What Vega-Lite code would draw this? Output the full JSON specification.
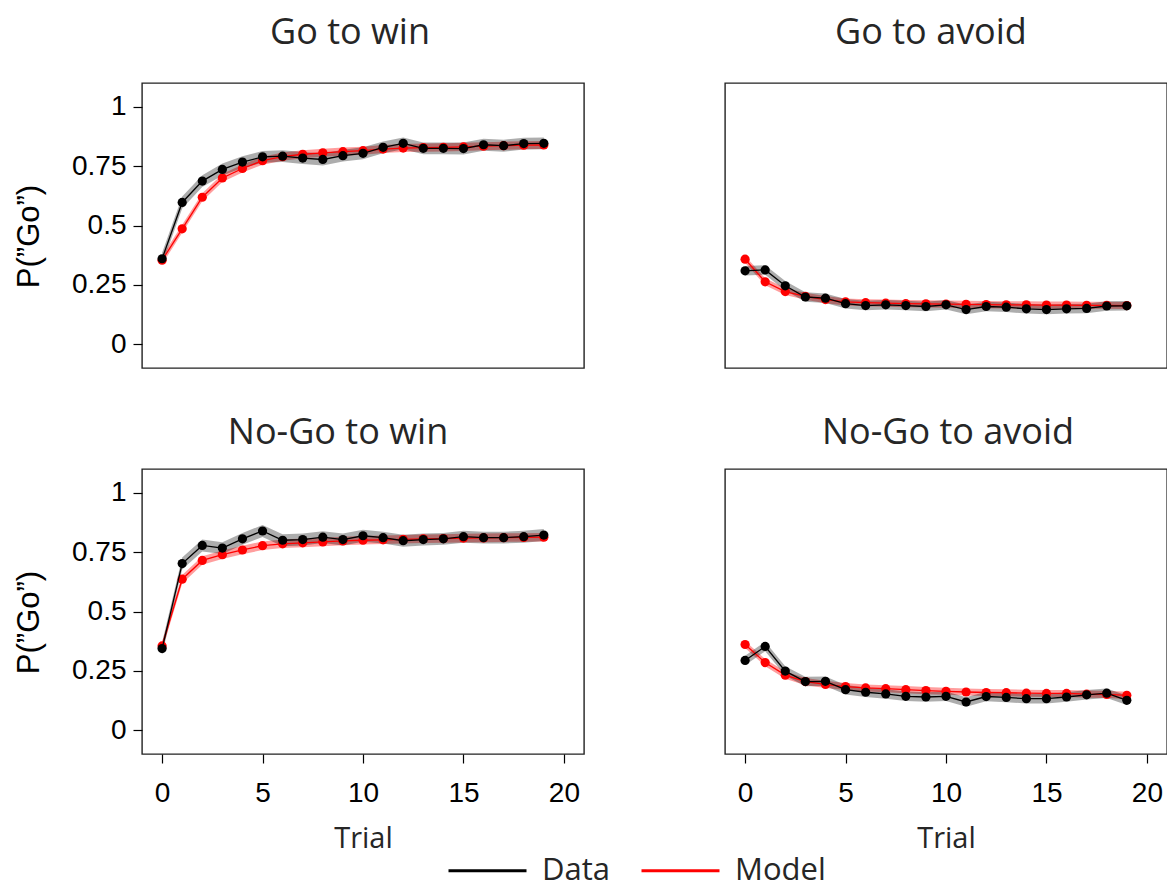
{
"$schema":"https://vega.github.io/schema/vega-lite/v6.json",
"padding":{"left":12,"top":14,"right":0,"bottom":0},
"data":{"values":[
{"c":"GW","s":"Data","t":0,"m":0.360,"lo":0.335,"hi":0.385},
{"c":"GW","s":"Data","t":1,"m":0.597,"lo":0.572,"hi":0.622},
{"c":"GW","s":"Data","t":2,"m":0.687,"lo":0.662,"hi":0.712},
{"c":"GW","s":"Data","t":3,"m":0.736,"lo":0.711,"hi":0.761},
{"c":"GW","s":"Data","t":4,"m":0.767,"lo":0.742,"hi":0.792},
{"c":"GW","s":"Data","t":5,"m":0.789,"lo":0.764,"hi":0.814},
{"c":"GW","s":"Data","t":6,"m":0.792,"lo":0.767,"hi":0.817},
{"c":"GW","s":"Data","t":7,"m":0.784,"lo":0.759,"hi":0.809},
{"c":"GW","s":"Data","t":8,"m":0.778,"lo":0.753,"hi":0.803},
{"c":"GW","s":"Data","t":9,"m":0.794,"lo":0.769,"hi":0.819},
{"c":"GW","s":"Data","t":10,"m":0.804,"lo":0.779,"hi":0.829},
{"c":"GW","s":"Data","t":11,"m":0.829,"lo":0.804,"hi":0.854},
{"c":"GW","s":"Data","t":12,"m":0.846,"lo":0.821,"hi":0.871},
{"c":"GW","s":"Data","t":13,"m":0.825,"lo":0.800,"hi":0.850},
{"c":"GW","s":"Data","t":14,"m":0.825,"lo":0.800,"hi":0.850},
{"c":"GW","s":"Data","t":15,"m":0.824,"lo":0.799,"hi":0.849},
{"c":"GW","s":"Data","t":16,"m":0.840,"lo":0.815,"hi":0.865},
{"c":"GW","s":"Data","t":17,"m":0.836,"lo":0.811,"hi":0.861},
{"c":"GW","s":"Data","t":18,"m":0.845,"lo":0.820,"hi":0.870},
{"c":"GW","s":"Data","t":19,"m":0.846,"lo":0.821,"hi":0.871},
{"c":"GW","s":"Model","t":0,"m":0.354,"lo":0.337,"hi":0.371},
{"c":"GW","s":"Model","t":1,"m":0.486,"lo":0.469,"hi":0.503},
{"c":"GW","s":"Model","t":2,"m":0.619,"lo":0.602,"hi":0.636},
{"c":"GW","s":"Model","t":3,"m":0.700,"lo":0.683,"hi":0.717},
{"c":"GW","s":"Model","t":4,"m":0.740,"lo":0.723,"hi":0.757},
{"c":"GW","s":"Model","t":5,"m":0.773,"lo":0.756,"hi":0.790},
{"c":"GW","s":"Model","t":6,"m":0.790,"lo":0.773,"hi":0.807},
{"c":"GW","s":"Model","t":7,"m":0.800,"lo":0.783,"hi":0.817},
{"c":"GW","s":"Model","t":8,"m":0.806,"lo":0.789,"hi":0.823},
{"c":"GW","s":"Model","t":9,"m":0.811,"lo":0.794,"hi":0.828},
{"c":"GW","s":"Model","t":10,"m":0.815,"lo":0.798,"hi":0.832},
{"c":"GW","s":"Model","t":11,"m":0.822,"lo":0.805,"hi":0.839},
{"c":"GW","s":"Model","t":12,"m":0.826,"lo":0.809,"hi":0.843},
{"c":"GW","s":"Model","t":13,"m":0.828,"lo":0.811,"hi":0.845},
{"c":"GW","s":"Model","t":14,"m":0.829,"lo":0.812,"hi":0.846},
{"c":"GW","s":"Model","t":15,"m":0.831,"lo":0.814,"hi":0.848},
{"c":"GW","s":"Model","t":16,"m":0.834,"lo":0.817,"hi":0.851},
{"c":"GW","s":"Model","t":17,"m":0.836,"lo":0.819,"hi":0.853},
{"c":"GW","s":"Model","t":18,"m":0.838,"lo":0.821,"hi":0.855},
{"c":"GW","s":"Model","t":19,"m":0.839,"lo":0.822,"hi":0.856},
{"c":"GA","s":"Data","t":0,"m":0.309,"lo":0.289,"hi":0.329},
{"c":"GA","s":"Data","t":1,"m":0.313,"lo":0.293,"hi":0.333},
{"c":"GA","s":"Data","t":2,"m":0.246,"lo":0.226,"hi":0.266},
{"c":"GA","s":"Data","t":3,"m":0.199,"lo":0.179,"hi":0.219},
{"c":"GA","s":"Data","t":4,"m":0.194,"lo":0.174,"hi":0.214},
{"c":"GA","s":"Data","t":5,"m":0.171,"lo":0.151,"hi":0.191},
{"c":"GA","s":"Data","t":6,"m":0.163,"lo":0.143,"hi":0.183},
{"c":"GA","s":"Data","t":7,"m":0.166,"lo":0.146,"hi":0.186},
{"c":"GA","s":"Data","t":8,"m":0.163,"lo":0.143,"hi":0.183},
{"c":"GA","s":"Data","t":9,"m":0.159,"lo":0.139,"hi":0.179},
{"c":"GA","s":"Data","t":10,"m":0.166,"lo":0.146,"hi":0.186},
{"c":"GA","s":"Data","t":11,"m":0.146,"lo":0.126,"hi":0.166},
{"c":"GA","s":"Data","t":12,"m":0.159,"lo":0.139,"hi":0.179},
{"c":"GA","s":"Data","t":13,"m":0.156,"lo":0.136,"hi":0.176},
{"c":"GA","s":"Data","t":14,"m":0.149,"lo":0.129,"hi":0.169},
{"c":"GA","s":"Data","t":15,"m":0.146,"lo":0.126,"hi":0.166},
{"c":"GA","s":"Data","t":16,"m":0.149,"lo":0.129,"hi":0.169},
{"c":"GA","s":"Data","t":17,"m":0.151,"lo":0.131,"hi":0.171},
{"c":"GA","s":"Data","t":18,"m":0.161,"lo":0.141,"hi":0.181},
{"c":"GA","s":"Data","t":19,"m":0.162,"lo":0.142,"hi":0.182},
{"c":"GA","s":"Model","t":0,"m":0.358,"lo":0.343,"hi":0.373},
{"c":"GA","s":"Model","t":1,"m":0.263,"lo":0.248,"hi":0.278},
{"c":"GA","s":"Model","t":2,"m":0.222,"lo":0.207,"hi":0.237},
{"c":"GA","s":"Model","t":3,"m":0.202,"lo":0.187,"hi":0.217},
{"c":"GA","s":"Model","t":4,"m":0.188,"lo":0.173,"hi":0.203},
{"c":"GA","s":"Model","t":5,"m":0.178,"lo":0.163,"hi":0.193},
{"c":"GA","s":"Model","t":6,"m":0.175,"lo":0.160,"hi":0.190},
{"c":"GA","s":"Model","t":7,"m":0.173,"lo":0.158,"hi":0.188},
{"c":"GA","s":"Model","t":8,"m":0.171,"lo":0.156,"hi":0.186},
{"c":"GA","s":"Model","t":9,"m":0.170,"lo":0.155,"hi":0.185},
{"c":"GA","s":"Model","t":10,"m":0.169,"lo":0.154,"hi":0.184},
{"c":"GA","s":"Model","t":11,"m":0.168,"lo":0.153,"hi":0.183},
{"c":"GA","s":"Model","t":12,"m":0.167,"lo":0.152,"hi":0.182},
{"c":"GA","s":"Model","t":13,"m":0.166,"lo":0.151,"hi":0.181},
{"c":"GA","s":"Model","t":14,"m":0.166,"lo":0.151,"hi":0.181},
{"c":"GA","s":"Model","t":15,"m":0.165,"lo":0.150,"hi":0.180},
{"c":"GA","s":"Model","t":16,"m":0.165,"lo":0.150,"hi":0.180},
{"c":"GA","s":"Model","t":17,"m":0.164,"lo":0.149,"hi":0.179},
{"c":"GA","s":"Model","t":18,"m":0.164,"lo":0.149,"hi":0.179},
{"c":"GA","s":"Model","t":19,"m":0.163,"lo":0.148,"hi":0.178},
{"c":"NW","s":"Data","t":0,"m":0.344,"lo":0.319,"hi":0.369},
{"c":"NW","s":"Data","t":1,"m":0.702,"lo":0.677,"hi":0.727},
{"c":"NW","s":"Data","t":2,"m":0.778,"lo":0.753,"hi":0.803},
{"c":"NW","s":"Data","t":3,"m":0.767,"lo":0.742,"hi":0.792},
{"c":"NW","s":"Data","t":4,"m":0.806,"lo":0.781,"hi":0.831},
{"c":"NW","s":"Data","t":5,"m":0.839,"lo":0.814,"hi":0.864},
{"c":"NW","s":"Data","t":6,"m":0.800,"lo":0.775,"hi":0.825},
{"c":"NW","s":"Data","t":7,"m":0.803,"lo":0.778,"hi":0.828},
{"c":"NW","s":"Data","t":8,"m":0.813,"lo":0.788,"hi":0.838},
{"c":"NW","s":"Data","t":9,"m":0.803,"lo":0.778,"hi":0.828},
{"c":"NW","s":"Data","t":10,"m":0.819,"lo":0.794,"hi":0.844},
{"c":"NW","s":"Data","t":11,"m":0.811,"lo":0.786,"hi":0.836},
{"c":"NW","s":"Data","t":12,"m":0.798,"lo":0.773,"hi":0.823},
{"c":"NW","s":"Data","t":13,"m":0.803,"lo":0.778,"hi":0.828},
{"c":"NW","s":"Data","t":14,"m":0.806,"lo":0.781,"hi":0.831},
{"c":"NW","s":"Data","t":15,"m":0.815,"lo":0.790,"hi":0.840},
{"c":"NW","s":"Data","t":16,"m":0.811,"lo":0.786,"hi":0.836},
{"c":"NW","s":"Data","t":17,"m":0.811,"lo":0.786,"hi":0.836},
{"c":"NW","s":"Data","t":18,"m":0.815,"lo":0.790,"hi":0.840},
{"c":"NW","s":"Data","t":19,"m":0.822,"lo":0.797,"hi":0.847},
{"c":"NW","s":"Model","t":0,"m":0.355,"lo":0.337,"hi":0.373},
{"c":"NW","s":"Model","t":1,"m":0.636,"lo":0.618,"hi":0.654},
{"c":"NW","s":"Model","t":2,"m":0.715,"lo":0.697,"hi":0.733},
{"c":"NW","s":"Model","t":3,"m":0.739,"lo":0.721,"hi":0.757},
{"c":"NW","s":"Model","t":4,"m":0.759,"lo":0.741,"hi":0.777},
{"c":"NW","s":"Model","t":5,"m":0.777,"lo":0.759,"hi":0.795},
{"c":"NW","s":"Model","t":6,"m":0.785,"lo":0.767,"hi":0.803},
{"c":"NW","s":"Model","t":7,"m":0.789,"lo":0.771,"hi":0.807},
{"c":"NW","s":"Model","t":8,"m":0.793,"lo":0.775,"hi":0.811},
{"c":"NW","s":"Model","t":9,"m":0.797,"lo":0.779,"hi":0.815},
{"c":"NW","s":"Model","t":10,"m":0.800,"lo":0.782,"hi":0.818},
{"c":"NW","s":"Model","t":11,"m":0.802,"lo":0.784,"hi":0.820},
{"c":"NW","s":"Model","t":12,"m":0.804,"lo":0.786,"hi":0.822},
{"c":"NW","s":"Model","t":13,"m":0.806,"lo":0.788,"hi":0.824},
{"c":"NW","s":"Model","t":14,"m":0.807,"lo":0.789,"hi":0.825},
{"c":"NW","s":"Model","t":15,"m":0.809,"lo":0.791,"hi":0.827},
{"c":"NW","s":"Model","t":16,"m":0.810,"lo":0.792,"hi":0.828},
{"c":"NW","s":"Model","t":17,"m":0.811,"lo":0.793,"hi":0.829},
{"c":"NW","s":"Model","t":18,"m":0.812,"lo":0.794,"hi":0.830},
{"c":"NW","s":"Model","t":19,"m":0.813,"lo":0.795,"hi":0.831},
{"c":"NA","s":"Data","t":0,"m":0.294,"lo":0.274,"hi":0.314},
{"c":"NA","s":"Data","t":1,"m":0.353,"lo":0.333,"hi":0.373},
{"c":"NA","s":"Data","t":2,"m":0.249,"lo":0.229,"hi":0.269},
{"c":"NA","s":"Data","t":3,"m":0.205,"lo":0.185,"hi":0.225},
{"c":"NA","s":"Data","t":4,"m":0.206,"lo":0.186,"hi":0.226},
{"c":"NA","s":"Data","t":5,"m":0.171,"lo":0.151,"hi":0.191},
{"c":"NA","s":"Data","t":6,"m":0.160,"lo":0.140,"hi":0.180},
{"c":"NA","s":"Data","t":7,"m":0.153,"lo":0.133,"hi":0.173},
{"c":"NA","s":"Data","t":8,"m":0.143,"lo":0.123,"hi":0.163},
{"c":"NA","s":"Data","t":9,"m":0.140,"lo":0.120,"hi":0.160},
{"c":"NA","s":"Data","t":10,"m":0.143,"lo":0.123,"hi":0.163},
{"c":"NA","s":"Data","t":11,"m":0.119,"lo":0.099,"hi":0.139},
{"c":"NA","s":"Data","t":12,"m":0.142,"lo":0.122,"hi":0.162},
{"c":"NA","s":"Data","t":13,"m":0.138,"lo":0.118,"hi":0.158},
{"c":"NA","s":"Data","t":14,"m":0.133,"lo":0.113,"hi":0.153},
{"c":"NA","s":"Data","t":15,"m":0.133,"lo":0.113,"hi":0.153},
{"c":"NA","s":"Data","t":16,"m":0.140,"lo":0.120,"hi":0.160},
{"c":"NA","s":"Data","t":17,"m":0.149,"lo":0.129,"hi":0.169},
{"c":"NA","s":"Data","t":18,"m":0.156,"lo":0.136,"hi":0.176},
{"c":"NA","s":"Data","t":19,"m":0.126,"lo":0.106,"hi":0.146},
{"c":"NA","s":"Model","t":0,"m":0.361,"lo":0.346,"hi":0.376},
{"c":"NA","s":"Model","t":1,"m":0.285,"lo":0.270,"hi":0.300},
{"c":"NA","s":"Model","t":2,"m":0.232,"lo":0.217,"hi":0.247},
{"c":"NA","s":"Model","t":3,"m":0.205,"lo":0.190,"hi":0.220},
{"c":"NA","s":"Model","t":4,"m":0.193,"lo":0.178,"hi":0.208},
{"c":"NA","s":"Model","t":5,"m":0.184,"lo":0.169,"hi":0.199},
{"c":"NA","s":"Model","t":6,"m":0.178,"lo":0.163,"hi":0.193},
{"c":"NA","s":"Model","t":7,"m":0.175,"lo":0.160,"hi":0.190},
{"c":"NA","s":"Model","t":8,"m":0.171,"lo":0.156,"hi":0.186},
{"c":"NA","s":"Model","t":9,"m":0.167,"lo":0.152,"hi":0.182},
{"c":"NA","s":"Model","t":10,"m":0.164,"lo":0.149,"hi":0.179},
{"c":"NA","s":"Model","t":11,"m":0.161,"lo":0.146,"hi":0.176},
{"c":"NA","s":"Model","t":12,"m":0.159,"lo":0.144,"hi":0.174},
{"c":"NA","s":"Model","t":13,"m":0.158,"lo":0.143,"hi":0.173},
{"c":"NA","s":"Model","t":14,"m":0.156,"lo":0.141,"hi":0.171},
{"c":"NA","s":"Model","t":15,"m":0.155,"lo":0.140,"hi":0.170},
{"c":"NA","s":"Model","t":16,"m":0.155,"lo":0.140,"hi":0.170},
{"c":"NA","s":"Model","t":17,"m":0.152,"lo":0.137,"hi":0.167},
{"c":"NA","s":"Model","t":18,"m":0.151,"lo":0.136,"hi":0.166},
{"c":"NA","s":"Model","t":19,"m":0.147,"lo":0.132,"hi":0.162}
]},
"columns":2,
"spacing":{"row":45,"column":139},
"align":"each",
"resolve":{"scale":{"color":"shared"},"legend":{"color":"shared"}},
"concat":[
{
"title":{"text":"Go to win","offset":31,"dx":-13},"width":442,"height":285,
"transform":[{"filter":"datum.c == 'GW'"}],
"encoding":{"x":{"field":"t","type":"quantitative","scale":{"domain":[-1,21],"nice":false,"zero":false},"axis":null}},
"layer":[
{"transform":[{"filter":"datum.s == 'Model'"}],"mark":{"type":"area","color":"#ff0000","opacity":0.38},"encoding":{"y":{"field":"lo","type":"quantitative","scale":{"domain":[-0.1,1.1],"nice":false,"zero":false},"axis":{"title":"P(”Go”)","values":[0,0.25,0.5,0.75,1],"format":".2~f"}},"y2":{"field":"hi"}}},
{"transform":[{"filter":"datum.s == 'Data'"}],"mark":{"type":"area","color":"#000000","opacity":0.32},"encoding":{"y":{"field":"lo","type":"quantitative","scale":{"domain":[-0.1,1.1],"nice":false,"zero":false},"axis":{"title":"P(”Go”)","values":[0,0.25,0.5,0.75,1],"format":".2~f"}},"y2":{"field":"hi"}}},
{"transform":[{"filter":"datum.s == 'Model'"}],"mark":{"type":"line","strokeWidth":1.3},"encoding":{"y":{"field":"m","type":"quantitative","scale":{"domain":[-0.1,1.1],"nice":false,"zero":false},"axis":{"title":"P(”Go”)","values":[0,0.25,0.5,0.75,1],"format":".2~f"}},"color":{"field":"s","type":"nominal","scale":{"domain":["Data","Model"],"range":["#000000","#ff0000"]},"legend":{"title":null,"orient":"none","legendX":305,"legendY":747,"direction":"horizontal","symbolStrokeWidth":3}}}},
{"transform":[{"filter":"datum.s == 'Model'"}],"mark":{"type":"point","filled":true,"size":85,"opacity":1,"color":"#ff0000"},"encoding":{"y":{"field":"m","type":"quantitative","scale":{"domain":[-0.1,1.1],"nice":false,"zero":false},"axis":{"title":"P(”Go”)","values":[0,0.25,0.5,0.75,1],"format":".2~f"}}}},
{"transform":[{"filter":"datum.s == 'Data'"}],"mark":{"type":"line","strokeWidth":1.3},"encoding":{"y":{"field":"m","type":"quantitative","scale":{"domain":[-0.1,1.1],"nice":false,"zero":false},"axis":{"title":"P(”Go”)","values":[0,0.25,0.5,0.75,1],"format":".2~f"}},"color":{"field":"s","type":"nominal","scale":{"domain":["Data","Model"],"range":["#000000","#ff0000"]},"legend":{"title":null,"orient":"none","legendX":305,"legendY":747,"direction":"horizontal","symbolStrokeWidth":3}}}},
{"transform":[{"filter":"datum.s == 'Data'"}],"mark":{"type":"point","filled":true,"size":85,"opacity":1,"color":"#000000"},"encoding":{"y":{"field":"m","type":"quantitative","scale":{"domain":[-0.1,1.1],"nice":false,"zero":false},"axis":{"title":"P(”Go”)","values":[0,0.25,0.5,0.75,1],"format":".2~f"}}}}
]
},
{
"title":{"text":"Go to avoid","offset":31,"dx":-15},"width":442,"height":285,
"transform":[{"filter":"datum.c == 'GA'"}],
"encoding":{"x":{"field":"t","type":"quantitative","scale":{"domain":[-1,21],"nice":false,"zero":false},"axis":null}},
"layer":[
{"transform":[{"filter":"datum.s == 'Model'"}],"mark":{"type":"area","color":"#ff0000","opacity":0.38},"encoding":{"y":{"field":"lo","type":"quantitative","scale":{"domain":[-0.1,1.1],"nice":false,"zero":false},"axis":null},"y2":{"field":"hi"}}},
{"transform":[{"filter":"datum.s == 'Data'"}],"mark":{"type":"area","color":"#000000","opacity":0.32},"encoding":{"y":{"field":"lo","type":"quantitative","scale":{"domain":[-0.1,1.1],"nice":false,"zero":false},"axis":null},"y2":{"field":"hi"}}},
{"transform":[{"filter":"datum.s == 'Model'"}],"mark":{"type":"line","strokeWidth":1.3},"encoding":{"y":{"field":"m","type":"quantitative","scale":{"domain":[-0.1,1.1],"nice":false,"zero":false},"axis":null},"color":{"field":"s","type":"nominal","scale":{"domain":["Data","Model"],"range":["#000000","#ff0000"]},"legend":{"title":null,"orient":"none","legendX":305,"legendY":747,"direction":"horizontal","symbolStrokeWidth":3}}}},
{"transform":[{"filter":"datum.s == 'Model'"}],"mark":{"type":"point","filled":true,"size":85,"opacity":1,"color":"#ff0000"},"encoding":{"y":{"field":"m","type":"quantitative","scale":{"domain":[-0.1,1.1],"nice":false,"zero":false},"axis":null}}},
{"transform":[{"filter":"datum.s == 'Data'"}],"mark":{"type":"line","strokeWidth":1.3},"encoding":{"y":{"field":"m","type":"quantitative","scale":{"domain":[-0.1,1.1],"nice":false,"zero":false},"axis":null},"color":{"field":"s","type":"nominal","scale":{"domain":["Data","Model"],"range":["#000000","#ff0000"]},"legend":{"title":null,"orient":"none","legendX":305,"legendY":747,"direction":"horizontal","symbolStrokeWidth":3}}}},
{"transform":[{"filter":"datum.s == 'Data'"}],"mark":{"type":"point","filled":true,"size":85,"opacity":1,"color":"#000000"},"encoding":{"y":{"field":"m","type":"quantitative","scale":{"domain":[-0.1,1.1],"nice":false,"zero":false},"axis":null}}}
]
},
{
"title":{"text":"No-Go to win","offset":17,"dx":-25},"width":442,"height":285,
"transform":[{"filter":"datum.c == 'NW'"}],
"encoding":{"x":{"field":"t","type":"quantitative","scale":{"domain":[-1,21],"nice":false,"zero":false},"axis":{"title":"Trial","values":[0,5,10,15,20],"format":"d"}}},
"layer":[
{"transform":[{"filter":"datum.s == 'Model'"}],"mark":{"type":"area","color":"#ff0000","opacity":0.38},"encoding":{"y":{"field":"lo","type":"quantitative","scale":{"domain":[-0.1,1.1],"nice":false,"zero":false},"axis":{"title":"P(”Go”)","values":[0,0.25,0.5,0.75,1],"format":".2~f"}},"y2":{"field":"hi"}}},
{"transform":[{"filter":"datum.s == 'Data'"}],"mark":{"type":"area","color":"#000000","opacity":0.32},"encoding":{"y":{"field":"lo","type":"quantitative","scale":{"domain":[-0.1,1.1],"nice":false,"zero":false},"axis":{"title":"P(”Go”)","values":[0,0.25,0.5,0.75,1],"format":".2~f"}},"y2":{"field":"hi"}}},
{"transform":[{"filter":"datum.s == 'Model'"}],"mark":{"type":"line","strokeWidth":1.3},"encoding":{"y":{"field":"m","type":"quantitative","scale":{"domain":[-0.1,1.1],"nice":false,"zero":false},"axis":{"title":"P(”Go”)","values":[0,0.25,0.5,0.75,1],"format":".2~f"}},"color":{"field":"s","type":"nominal","scale":{"domain":["Data","Model"],"range":["#000000","#ff0000"]},"legend":{"title":null,"orient":"none","legendX":305,"legendY":747,"direction":"horizontal","symbolStrokeWidth":3}}}},
{"transform":[{"filter":"datum.s == 'Model'"}],"mark":{"type":"point","filled":true,"size":85,"opacity":1,"color":"#ff0000"},"encoding":{"y":{"field":"m","type":"quantitative","scale":{"domain":[-0.1,1.1],"nice":false,"zero":false},"axis":{"title":"P(”Go”)","values":[0,0.25,0.5,0.75,1],"format":".2~f"}}}},
{"transform":[{"filter":"datum.s == 'Data'"}],"mark":{"type":"line","strokeWidth":1.3},"encoding":{"y":{"field":"m","type":"quantitative","scale":{"domain":[-0.1,1.1],"nice":false,"zero":false},"axis":{"title":"P(”Go”)","values":[0,0.25,0.5,0.75,1],"format":".2~f"}},"color":{"field":"s","type":"nominal","scale":{"domain":["Data","Model"],"range":["#000000","#ff0000"]},"legend":{"title":null,"orient":"none","legendX":305,"legendY":747,"direction":"horizontal","symbolStrokeWidth":3}}}},
{"transform":[{"filter":"datum.s == 'Data'"}],"mark":{"type":"point","filled":true,"size":85,"opacity":1,"color":"#000000"},"encoding":{"y":{"field":"m","type":"quantitative","scale":{"domain":[-0.1,1.1],"nice":false,"zero":false},"axis":{"title":"P(”Go”)","values":[0,0.25,0.5,0.75,1],"format":".2~f"}}}}
]
},
{
"title":{"text":"No-Go to avoid","offset":17,"dx":2},"width":442,"height":285,
"transform":[{"filter":"datum.c == 'NA'"}],
"encoding":{"x":{"field":"t","type":"quantitative","scale":{"domain":[-1,21],"nice":false,"zero":false},"axis":{"title":"Trial","values":[0,5,10,15,20],"format":"d"}}},
"layer":[
{"transform":[{"filter":"datum.s == 'Model'"}],"mark":{"type":"area","color":"#ff0000","opacity":0.38},"encoding":{"y":{"field":"lo","type":"quantitative","scale":{"domain":[-0.1,1.1],"nice":false,"zero":false},"axis":null},"y2":{"field":"hi"}}},
{"transform":[{"filter":"datum.s == 'Data'"}],"mark":{"type":"area","color":"#000000","opacity":0.32},"encoding":{"y":{"field":"lo","type":"quantitative","scale":{"domain":[-0.1,1.1],"nice":false,"zero":false},"axis":null},"y2":{"field":"hi"}}},
{"transform":[{"filter":"datum.s == 'Model'"}],"mark":{"type":"line","strokeWidth":1.3},"encoding":{"y":{"field":"m","type":"quantitative","scale":{"domain":[-0.1,1.1],"nice":false,"zero":false},"axis":null},"color":{"field":"s","type":"nominal","scale":{"domain":["Data","Model"],"range":["#000000","#ff0000"]},"legend":{"title":null,"orient":"none","legendX":305,"legendY":747,"direction":"horizontal","symbolStrokeWidth":3}}}},
{"transform":[{"filter":"datum.s == 'Model'"}],"mark":{"type":"point","filled":true,"size":85,"opacity":1,"color":"#ff0000"},"encoding":{"y":{"field":"m","type":"quantitative","scale":{"domain":[-0.1,1.1],"nice":false,"zero":false},"axis":null}}},
{"transform":[{"filter":"datum.s == 'Data'"}],"mark":{"type":"line","strokeWidth":1.3},"encoding":{"y":{"field":"m","type":"quantitative","scale":{"domain":[-0.1,1.1],"nice":false,"zero":false},"axis":null},"color":{"field":"s","type":"nominal","scale":{"domain":["Data","Model"],"range":["#000000","#ff0000"]},"legend":{"title":null,"orient":"none","legendX":305,"legendY":747,"direction":"horizontal","symbolStrokeWidth":3}}}},
{"transform":[{"filter":"datum.s == 'Data'"}],"mark":{"type":"point","filled":true,"size":85,"opacity":1,"color":"#000000"},"encoding":{"y":{"field":"m","type":"quantitative","scale":{"domain":[-0.1,1.1],"nice":false,"zero":false},"axis":null}}}
]
}
],
"config":{
"view":{"stroke":"#222222","strokeWidth":1.4},
"title":{"font":"Open Sans","fontSize":36,"fontWeight":"normal","color":"#262626","baseline":"alphabetic","frame":"group","anchor":"middle"},
"axis":{"domain":false,"grid":false,"ticks":true,"tickColor":"#000000","tickWidth":1.2,"tickSize":9,"labelFont":"Liberation Sans","labelFontSize":28,"labelColor":"#000000","labelPadding":7},
"axisY":{"titleFont":"Liberation Sans","titleFontSize":31,"titleColor":"#000000","titleFontWeight":"normal","titlePadding":26,"titleY":153},
"axisX":{"titleFont":"Open Sans","titleFontSize":29,"titleColor":"#262626","titleFontWeight":"normal","titlePadding":17,"labelPadding":16},
"legend":{"symbolType":"stroke","symbolSize":6084,"symbolStrokeWidth":3,"labelFont":"Open Sans","labelFontSize":31,"labelColor":"#262626","labelOffset":14,"columnPadding":25,"padding":0,"labelLimit":400}
}
}
